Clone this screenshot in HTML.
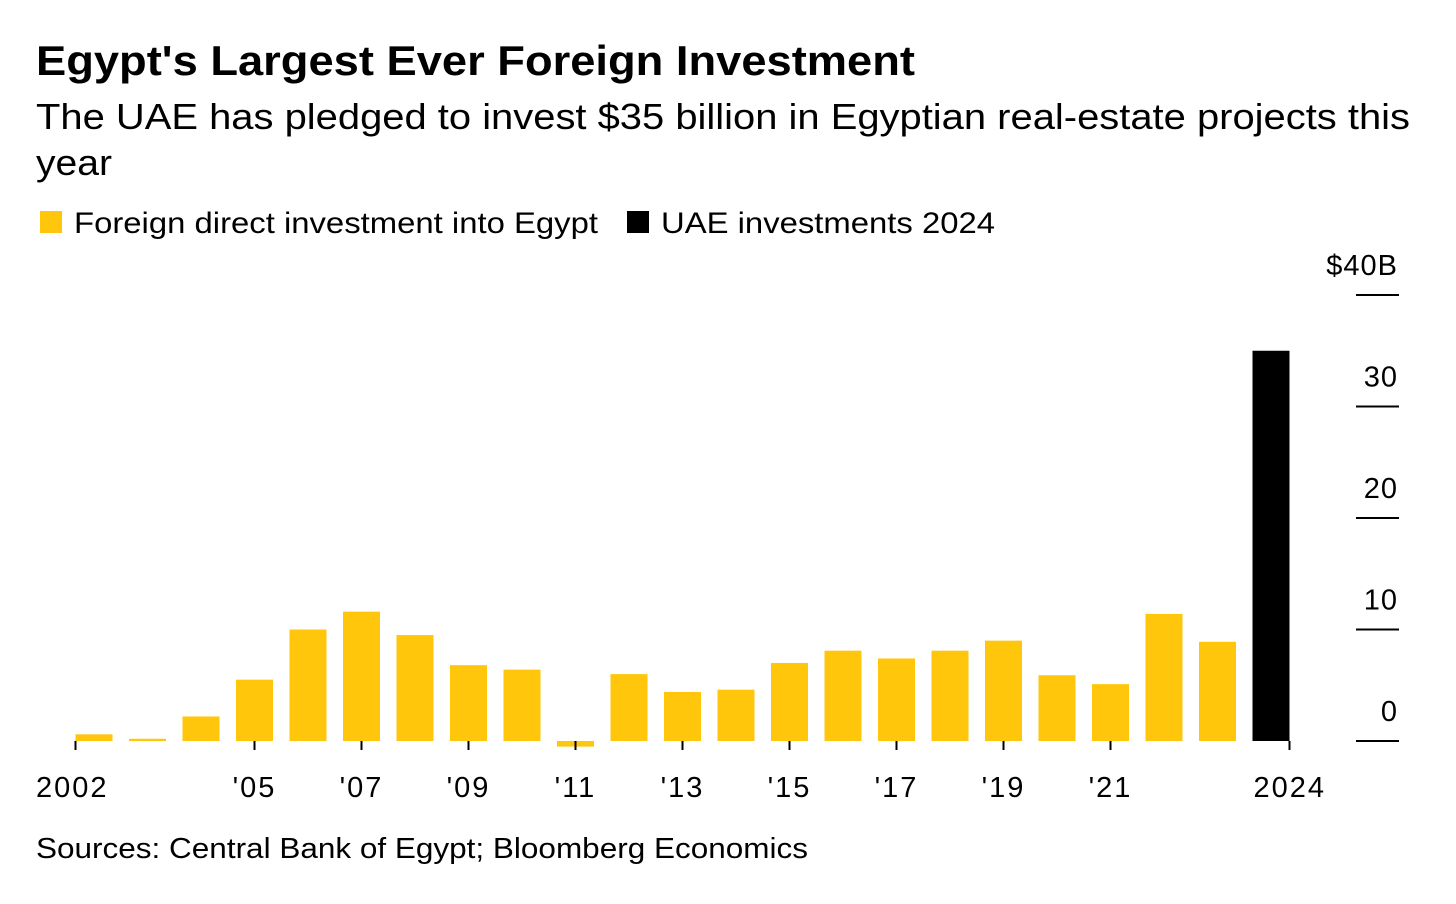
<!DOCTYPE html>
<html><head><meta charset="utf-8"><style>
body{margin:0;background:#fff;font-family:"Liberation Sans",sans-serif;}
svg text{font-family:"Liberation Sans",sans-serif;}
</style></head><body>
<svg width="1456" height="899" xmlns="http://www.w3.org/2000/svg">
<rect width="1456" height="899" fill="#fff"/>
<text x="36" y="75" font-size="42" font-weight="bold" fill="#000" textLength="879" lengthAdjust="spacingAndGlyphs">Egypt's Largest Ever Foreign Investment</text>
<text x="36" y="129" font-size="36" fill="#000" textLength="1374" lengthAdjust="spacingAndGlyphs">The UAE has pledged to invest $35 billion in Egyptian real-estate projects this</text>
<text x="36" y="175" font-size="36" fill="#000" textLength="76" lengthAdjust="spacingAndGlyphs">year</text>
<g>
<rect x="40" y="211" width="22" height="22" fill="#ffc60b"/>
<text x="74" y="233" font-size="30" textLength="524" lengthAdjust="spacingAndGlyphs">Foreign direct investment into Egypt</text>
<rect x="627" y="211" width="22" height="22" fill="#000"/>
<text x="661" y="233" font-size="30" textLength="334" lengthAdjust="spacingAndGlyphs">UAE investments 2024</text>
</g>
<g id="plot"></g>
<text x="36" y="858" font-size="29" textLength="772" lengthAdjust="spacingAndGlyphs">Sources: Central Bank of Egypt; Bloomberg Economics</text>
</svg>
<script>
const years=[2002,2003,2004,2005,2006,2007,2008,2009,2010,2011,2012,2013,2014,2015,2016,2017,2018,2019,2020,2021,2022,2023,2024];
const fdi=[0.6,0.2,2.2,5.5,10.0,11.6,9.5,6.8,6.4,-0.5,6.0,4.4,4.6,7.0,8.1,7.4,8.1,9.0,5.9,5.1,11.4,8.9,null];
const uae=[null,null,null,null,null,null,null,null,null,null,null,null,null,null,null,null,null,null,null,null,null,null,35];
const yTicks=[0,10,20,30,40];
const yTickLabels=["0","10","20","30","$40B"];
const xTickYears=[2002,2005,2007,2009,2011,2013,2015,2017,2019,2021,2024];
const xTickLabels=["2002","'05","'07","'09","'11","'13","'15","'17","'19","'21","2024"];
const NS="http://www.w3.org/2000/svg";
const g=document.getElementById('plot');
const y=v=>741-v*11.15;
const step=53.5, bw=37;
const xc=yr=>94+(yr-2002)*step;
function mk(t,a){const e=document.createElementNS(NS,t);for(const k in a)e.setAttribute(k,a[k]);g.appendChild(e);return e;}
yTicks.forEach((v,i)=>{
 const l=mk('line',{x1:1356,x2:1399,y1:y(v),y2:y(v),stroke:'#000','stroke-width':2});
 
 
 const t=mk('text',{x:1398,y:y(v)-20,'font-size':29,'text-anchor':'end','letter-spacing':1});
 t.textContent=yTickLabels[i];
 
 
});
years.forEach((yr,i)=>{
 [[fdi[i],'#ffc60b','bar-fdi-'],[uae[i],'#000','bar-uae-']].forEach(([v,c,n])=>{
  if(v==null)return;
  const top=Math.min(y(v),y(0)),h=Math.abs(y(v)-y(0));
  const r=mk('rect',{x:xc(yr)-bw/2,y:top,width:bw,height:Math.max(h,1),fill:c});
  
  
 });
});
xTickYears.forEach((yr,i)=>{
 let x=xc(yr);
 if(i===0)x=xc(yr)-bw/2; if(i===xTickYears.length-1)x=xc(yr)+bw/2;
 const l=mk('line',{x1:x,x2:x,y1:741,y2:750,stroke:'#000','stroke-width':2});
 
 
 const anchor=i===0?'start':(i===xTickYears.length-1?'end':'middle');
 const tx=i===0?36:(i===xTickYears.length-1?1326:x);
 const t=mk('text',{x:tx,y:797,'font-size':29,'text-anchor':anchor,'letter-spacing':2});
 t.textContent=xTickLabels[i];
 
 
});
</script>
</body></html>
